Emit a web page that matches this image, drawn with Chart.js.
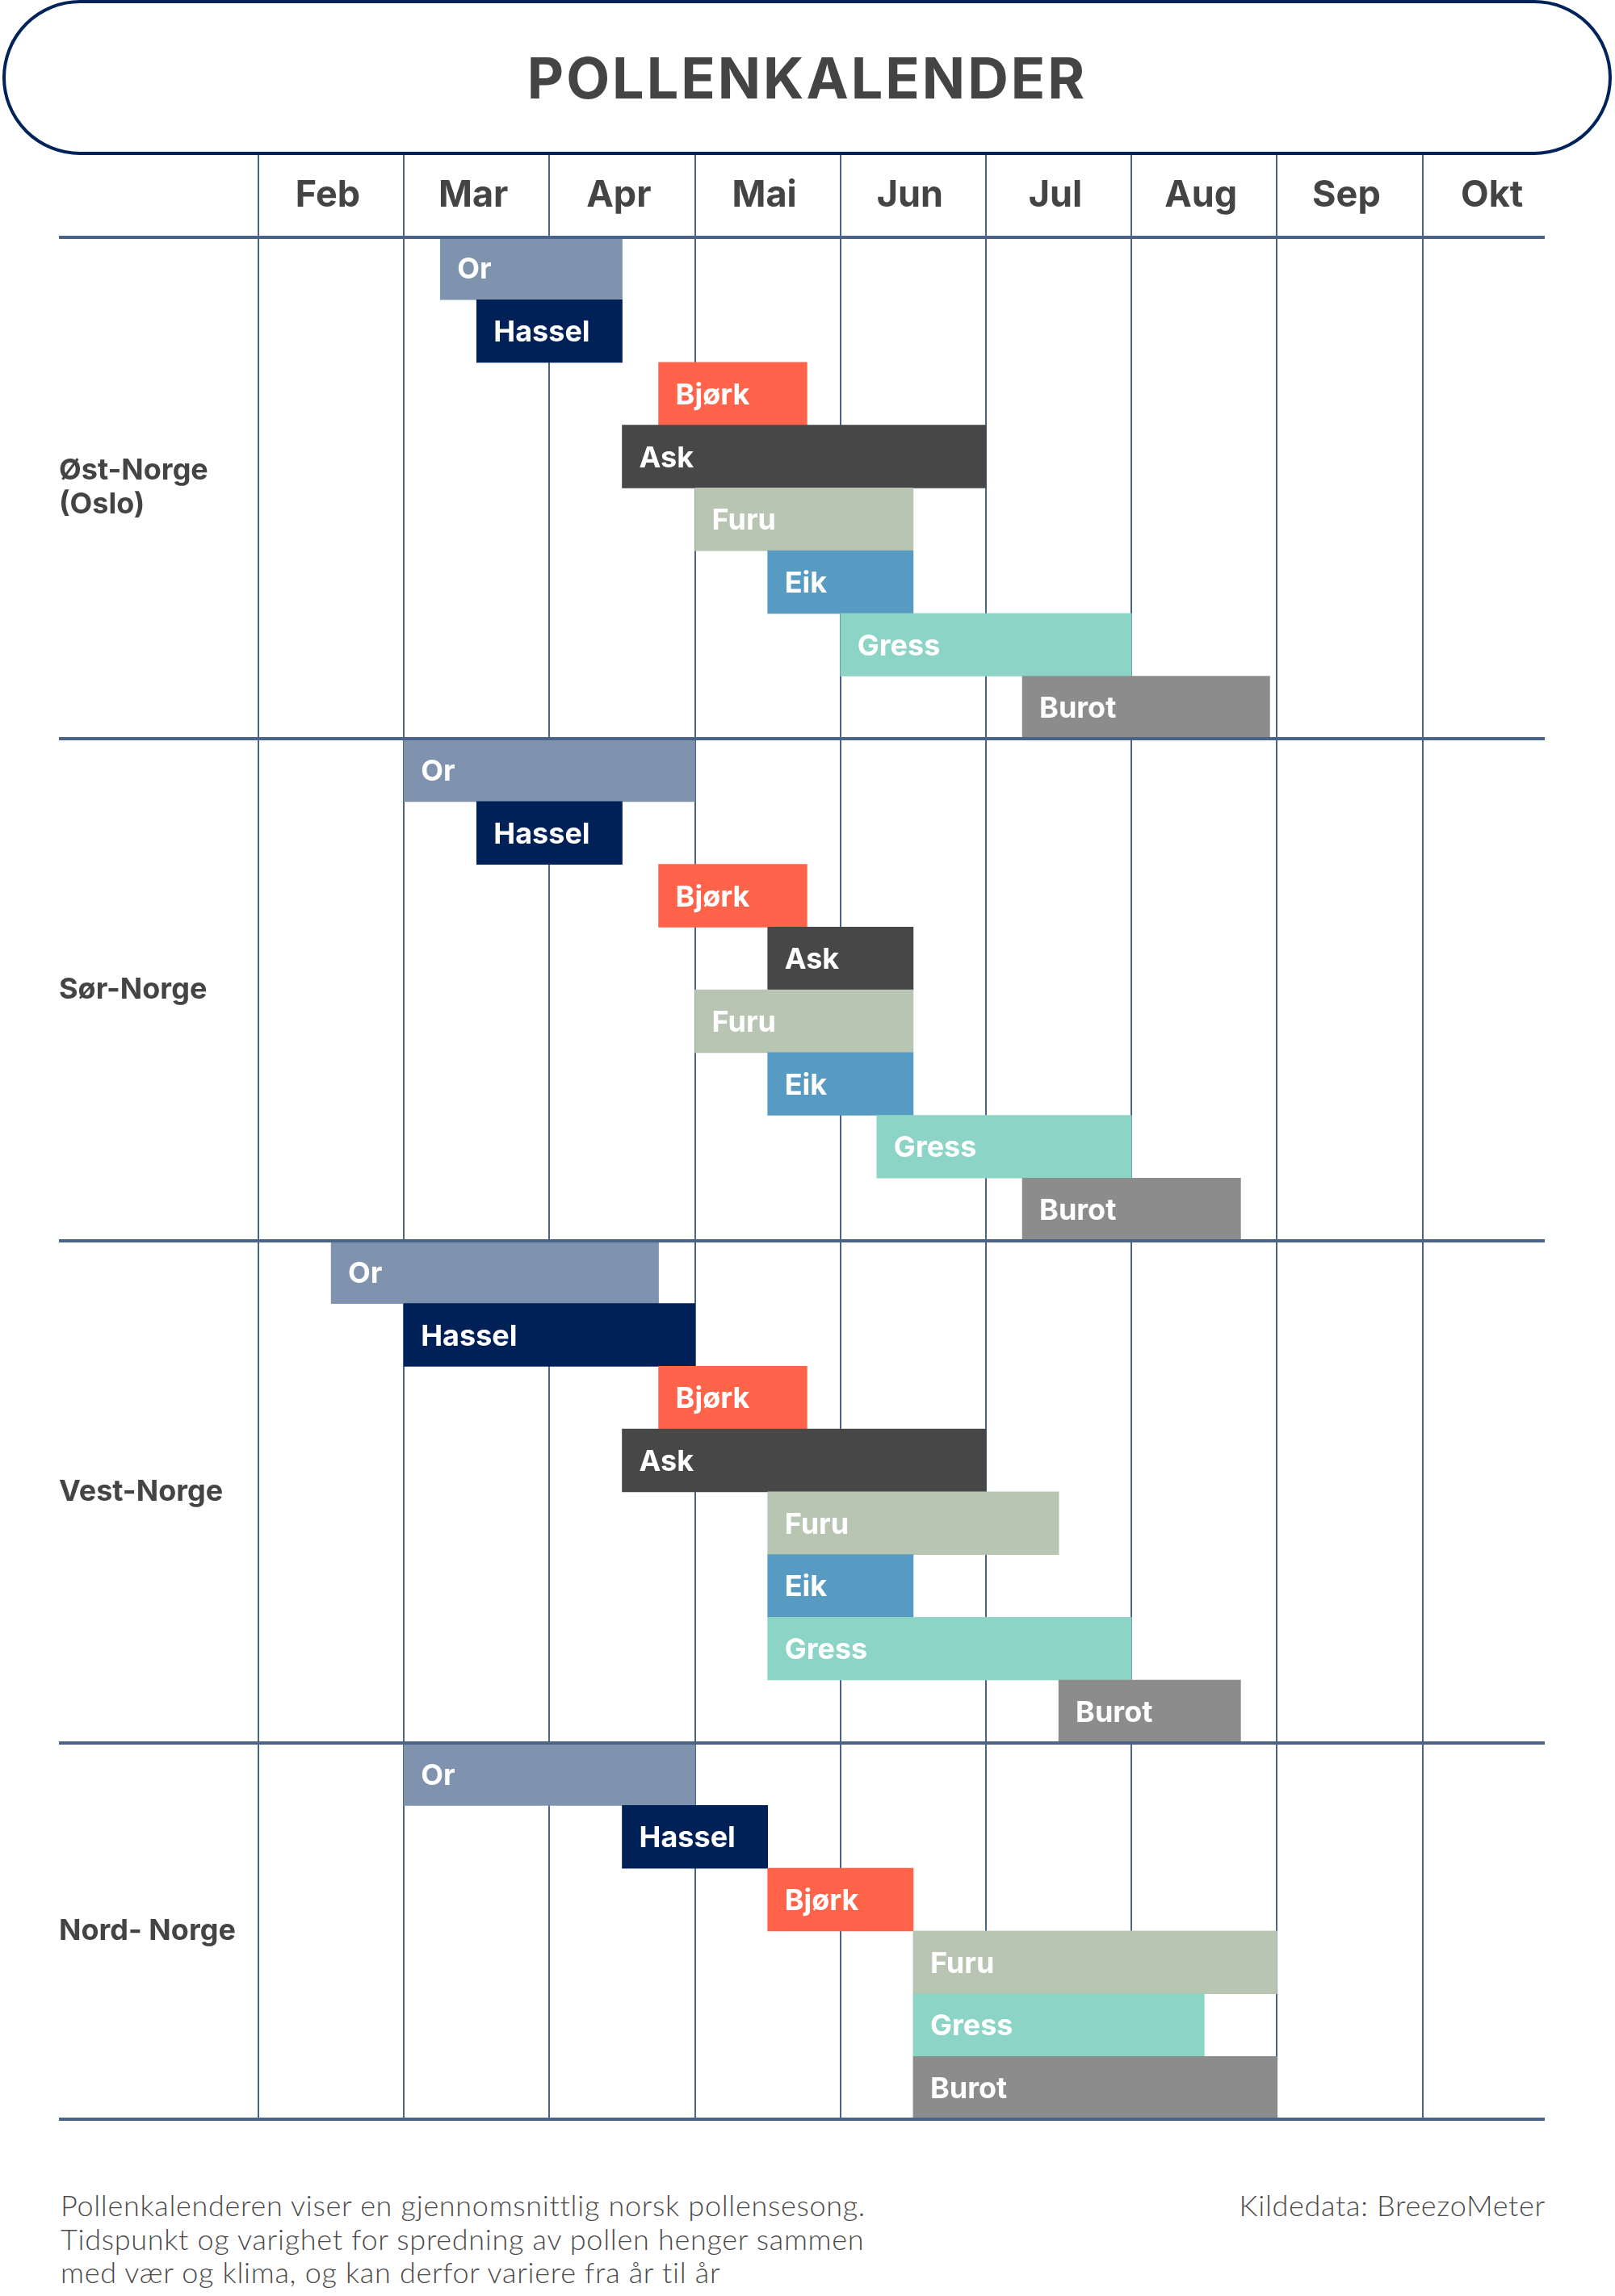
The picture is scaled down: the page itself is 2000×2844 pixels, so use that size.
<!DOCTYPE html>
<html lang="no">
<head>
<meta charset="utf-8">
<title>Pollenkalender</title>
<script src="https://cdn.jsdelivr.net/npm/chart.js@4.4.1/dist/chart.umd.min.js"></script>
<style>
    html, body { margin: 0; padding: 0; background: #ffffff; }
    body { position: relative; width: 2000px; height: 2844px; overflow: hidden; font-family: Inter, Lato, sans-serif; }
    #pollenChart { position: absolute; left: 0; top: 0; }
    .title {
        position: absolute; left: 3px; top: 0; width: 1985px; height: 184px;
        border: 4px solid #00235a; border-radius: 96px; background: #ffffff;
        display: flex; align-items: center; justify-content: center;
        font-size: 70px; font-weight: 700; letter-spacing: 3px; color: #444444;
    }
    .note, .source {
        position: absolute; top: 2711px; font-family: Lato, sans-serif; font-size: 36px; font-weight: 300;
        line-height: 41.7px; letter-spacing: 0.7px; color: #4a4a4a;
    }
    .note { left: 75px; }
    .source { right: 86px; }
</style>
</head>
<body>
<canvas id="pollenChart" width="2000" height="2660"></canvas>
<div class="title">POLLENKALENDER</div>
<div class="note">Pollenkalenderen viser en gjennomsnittlig norsk pollensesong.<br>Tidspunkt og varighet for spredning av pollen henger sammen<br>med vær og klima, og kan derfor variere fra år til år</div>
<div class="source">Kildedata: BreezoMeter</div>
<script>
// months shown in the header, first one starts at value 2 (Feb = month 2)
const months = ['Feb', 'Mar', 'Apr', 'Mai', 'Jun', 'Jul', 'Aug', 'Sep', 'Okt'];
const firstMonth = 2;
const xMax = 10.84; // axis ends part way into Okt

const regions = [['Øst-Norge', '(Oslo)'], 'Sør-Norge', 'Vest-Norge', 'Nord- Norge'];

// season start/end as month values (3.5 = mid March)
const ostPlants = ['Or', 'Hassel', 'Bjørk', 'Ask', 'Furu', 'Eik', 'Gress', 'Burot'];
const ostStart = [3.25, 3.5, 4.75, 4.5, 5.0, 5.5, 6.0, 7.25];
const ostEnd = [4.5, 4.5, 5.77, 7.0, 6.5, 6.5, 8.0, 8.95];

const sorPlants = ['Or', 'Hassel', 'Bjørk', 'Ask', 'Furu', 'Eik', 'Gress', 'Burot'];
const sorStart = [3.0, 3.5, 4.75, 5.5, 5.0, 5.5, 6.25, 7.25];
const sorEnd = [5.0, 4.5, 5.77, 6.5, 6.5, 6.5, 8.0, 8.75];

const vestPlants = ['Or', 'Hassel', 'Bjørk', 'Ask', 'Furu', 'Eik', 'Gress', 'Burot'];
const vestStart = [2.5, 3.0, 4.75, 4.5, 5.5, 5.5, 5.5, 7.5];
const vestEnd = [4.75, 5.0, 5.77, 7.0, 7.5, 6.5, 8.0, 8.75];

const nordPlants = ['Or', 'Hassel', 'Bjørk', 'Furu', 'Gress', 'Burot'];
const nordStart = [3.0, 4.5, 5.5, 6.5, 6.5, 6.5];
const nordEnd = [5.0, 5.5, 6.5, 9.0, 8.5, 9.0];

const plantColors = {
    'Or': '#7f93ae',
    'Hassel': '#002157',
    'Bjørk': '#ff644a',
    'Ask': '#474747',
    'Furu': '#b8c5b3',
    'Eik': '#579bc2',
    'Gress': '#8cd4c6',
    'Burot': '#8c8c8c'
};
const lineColor = '#4a6489';

const regionData = [
    { plants: ostPlants, start: ostStart, end: ostEnd },
    { plants: sorPlants, start: sorStart, end: sorEnd },
    { plants: vestPlants, start: vestStart, end: vestEnd },
    { plants: nordPlants, start: nordStart, end: nordEnd }
];

// Flatten regions into one row per plant, top to bottom
const rowLabels = [];
const rowRanges = [];
const rowColors = [];
const regionRows = {};   // row index -> region label (shown half a row lower)
const regionBounds = []; // first row of each region
regionData.forEach(function(region, r) {
    const first = rowLabels.length;
    regionBounds.push(first);
    regionRows[first + Math.floor((region.plants.length - 1) / 2)] = regions[r];
    region.plants.forEach(function(plant, i) {
        rowLabels.push(plant);
        rowRanges.push([region.start[i], region.end[i]]);
        rowColors.push(plantColors[plant]);
    });
});

const plotTop = 293.5;
const plotBottom = 2625;
const halfRow = (plotBottom - plotTop) / rowLabels.length / 2;

// Writes the plant name inside each bar
const barLabels = {
    id: 'barLabels',
    afterDatasetsDraw(chart) {
        const c = chart.ctx;
        const meta = chart.getDatasetMeta(0);
        c.save();
        c.fillStyle = '#ffffff';
        c.font = 'bold 36px Inter';
        c.textBaseline = 'alphabetic';
        meta.data.forEach(function(bar, i) {
            const left = Math.min(bar.x, bar.base);
            c.fillText(rowLabels[i], left + 21, bar.y + 13);
        });
        c.restore();
    }
};

Chart.defaults.font.family = 'Inter';

const ctx = document.getElementById('pollenChart').getContext('2d');
new Chart(ctx, {
    type: 'bar',
    data: {
        labels: rowLabels,
        datasets: [{
            data: rowRanges,
            backgroundColor: rowColors,
            borderWidth: 0,
            barPercentage: 1,
            categoryPercentage: 1
        }]
    },
    options: {
        indexAxis: 'y',
        responsive: false,
        animation: false,
        devicePixelRatio: 1,
        layout: {
            padding: { top: 192, left: 73, right: 87, bottom: 2660 - plotBottom }
        },
        plugins: {
            legend: { display: false },
            tooltip: { enabled: false }
        },
        scales: {
            x: {
                type: 'linear',
                position: 'top',
                min: firstMonth,
                max: xMax,
                afterBuildTicks: function(scale) {
                    scale.ticks = months.map(function(m, i) { return { value: firstMonth + i }; });
                },
                afterFit: function(scale) { scale.height = plotTop - 192; },
                border: { display: false },
                grid: { color: lineColor, lineWidth: 2, tickLength: plotTop - 192 },
                ticks: {
                    autoSkip: false,
                    maxRotation: 0,
                    minRotation: 0,
                    labelOffset: 86,
                    padding: -73,
                    color: '#444444',
                    font: { size: 45, weight: 'bold', lineHeight: 1 },
                    callback: function(value, index) { return months[index]; }
                }
            },
            y: {
                afterFit: function(scale) { scale.width = 320 - 73; },
                border: { display: false },
                grid: {
                    z: 1,
                    lineWidth: 4,
                    tickLength: 320 - 73,
                    color: function(context) {
                        if (context.type !== 'tick' || regionBounds.includes(context.index)) {
                            return lineColor;
                        }
                        return 'rgba(0,0,0,0)';
                    }
                },
                ticks: {
                    autoSkip: false,
                    crossAlign: 'far',
                    labelOffset: halfRow,
                    color: '#444444',
                    font: { size: 36, weight: 'bold', lineHeight: 1.18 },
                    callback: function(value, index) { return regionRows[index] || ''; }
                }
            }
        }
    },
    plugins: [barLabels]
});
</script>
</body>
</html>
